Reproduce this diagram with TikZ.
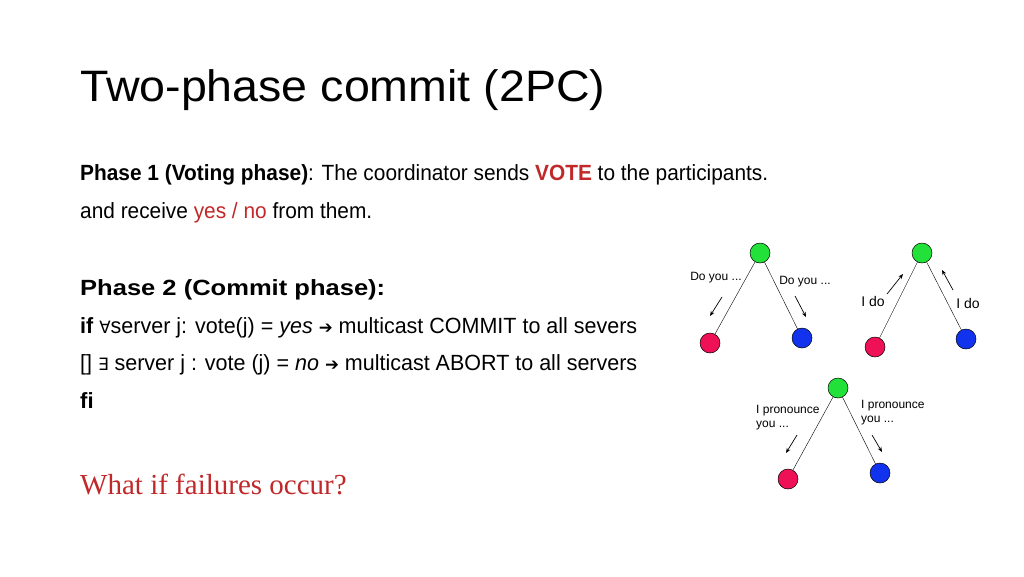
\documentclass[tikz,border=0pt]{standalone}
\usepackage{fontspec}
\usepackage{graphicx}
\usetikzlibrary{arrows.meta}
\setmainfont{Liberation Sans}
\newfontfamily\djv{DejaVu Sans}
\newfontfamily\serf{Liberation Serif}
\definecolor{hl}{HTML}{C0282A}
\definecolor{ngreen}{HTML}{22E23A}
\definecolor{nred}{HTML}{EE1155}
\definecolor{nblue}{HTML}{1133EE}
\newcommand{\fitw}[2]{\resizebox{#1}{\height}{#2}}
\newcommand{\sym}[1]{{\djv\fontsize{17}{20}\selectfont #1}}
\begin{document}
\begin{tikzpicture}[x=1pt,y=-1pt,
  txt/.style={anchor=base west,inner sep=0pt,font=\fontsize{22}{26}\selectfont},
  nd/.style={circle,draw=black,line width=0.5pt,minimum size=20pt,inner sep=0pt},
  lbl/.style={font=\fontsize{12}{14}\selectfont,inner sep=0pt,align=left},
  ar/.style={-{Stealth[length=5pt,width=4pt]},line width=0.7pt}]
\useasboundingbox (0,0) rectangle (1024,576);
\node[txt,font=\fontsize{44}{50}\selectfont] (title) at (80,101) {\fitw{525pt}{Two-phase commit (2PC)}};
\node[txt] (l1) at (80,180) {\fitw{688pt}{\textbf{Phase 1 (Voting phase)}: The coordinator sends \textcolor{hl}{\textbf{VOTE}} to the participants.}};
\node[txt] (l2) at (80,218) {\fitw{292pt}{and receive \textcolor{hl}{yes / no} from them.}};
\node[txt] (l3) at (80,295) {\fitw{305pt}{\textbf{Phase 2 (Commit phase):}}};
\node[txt] (l4) at (80,333) {\fitw{557pt}{\textbf{if} \sym{∀}server j: vote(j) = \textit{yes} \sym{➔} multicast COMMIT to all severs}};
\node[txt] (l5) at (80,370) {\fitw{557pt}{[] \sym{∃} server j : vote (j) = \textit{no} \sym{➔} multicast ABORT to all servers}};
\node[txt] (l6) at (80,408) {\textbf{fi}};
\node[txt,font=\fontsize{29}{32}\serf\selectfont,text=hl] (q) at (80,494) {What if failures occur?};
% tree 1
\node[nd,fill=ngreen] (g1) at (760,253) {};
\node[nd,fill=nred] (r1) at (710,343) {};
\node[nd,fill=nblue] (b1) at (802,338) {};
\draw (g1) -- (r1); \draw (g1) -- (b1);
\coordinate (a1s) at (722,297); \coordinate (a1e) at (710,316);
\coordinate (a2s) at (795,296); \coordinate (a2e) at (806,317);
\draw[ar] (a1s) -- (a1e); \draw[ar] (a2s) -- (a2e);
\node[lbl] (t1) at (716,278) {Do you ...};
\node[lbl] (t2) at (805,282) {Do you ...};
% tree 2
\node[nd,fill=ngreen] (g2) at (922,253) {};
\node[nd,fill=nred] (r2) at (875,347) {};
\node[nd,fill=nblue] (b2) at (966,339) {};
\draw (g2) -- (r2); \draw (g2) -- (b2);
\coordinate (a3s) at (887,294); \coordinate (a3e) at (903,274);
\coordinate (a4s) at (953,290); \coordinate (a4e) at (942,270);
\draw[ar] (a3s) -- (a3e); \draw[ar] (a4s) -- (a4e);
\node[lbl,font=\fontsize{14}{16}\selectfont] (t3) at (873,301) {I do};
\node[lbl,font=\fontsize{14}{16}\selectfont] (t4) at (968,303) {I do};
% tree 3
\node[nd,fill=ngreen] (g3) at (838,388) {};
\node[nd,fill=nred] (r3) at (788,479) {};
\node[nd,fill=nblue] (b3) at (880,473) {};
\draw (g3) -- (r3); \draw (g3) -- (b3);
\coordinate (a5s) at (797,435); \coordinate (a5e) at (786,453);
\coordinate (a6s) at (872,435); \coordinate (a6e) at (882,452);
\draw[ar] (a5s) -- (a5e); \draw[ar] (a6s) -- (a6e);
\node[lbl,anchor=west] (t5) at (756,418) {I pronounce\\you ...};
\node[lbl,anchor=west] (t6) at (861,413) {I pronounce\\you ...};
\end{tikzpicture}
\end{document}
